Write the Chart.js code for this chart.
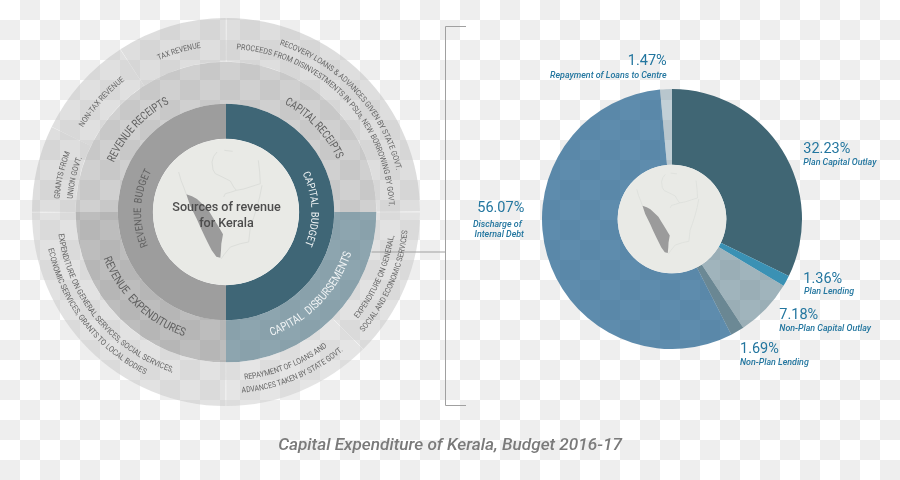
<!DOCTYPE html>
<html>
<head>
<meta charset="utf-8">
<script src="https://cdn.jsdelivr.net/npm/chart.js@4/dist/chart.umd.min.js"></script>
<style>
html,body{margin:0;padding:0}
body{width:900px;height:480px;overflow:hidden;position:relative;
 background:conic-gradient(#eee 25%,#fff 0 50%,#eee 0 75%,#fff 0) 0 0/40px 40px;
 font-family:Roboto,sans-serif}
canvas{position:absolute}
#left{left:32px;top:18px}
#right{left:542px;top:89px}
svg{position:absolute;left:0;top:0}
text{white-space:pre}
</style>
</head>
<body>
<canvas id="left" width="388" height="388"></canvas>
<canvas id="right" width="260" height="260"></canvas>
<svg id="ov" xmlns="http://www.w3.org/2000/svg" width="900" height="480" viewBox="0 0 900 480"></svg>
<script>
// ---- left diagram: sources of revenue (equal-part rings)
const outerLabels = ['Capital receipts detail','Expenditure on general, social and economic services','Repayment of loans','Revenue expenditure detail','Grants from Union Govt.','Non-tax revenue','Tax revenue'];
const outerValues = [90,45,45,90,26,31,33];
const middleLabels = ['Capital Receipts','Capital Disbursements','Revenue Expenditures','Revenue Receipts'];
const middleValues = [1,1,1,1];
const innerLabels = ['Capital Budget','Revenue Budget'];
const innerValues = [1,1];
// ---- right doughnut: capital expenditure shares (%)
const shareLabels = ['Plan Capital Outlay','Plan Lending','Non-Plan Capital Outlay','Non-Plan Lending','Discharge of Internal Debt','Repayment of Loans to Centre'];
const shareValues = [32.23,1.36,7.18,1.69,56.07,1.47];

const outerColors = ['rgba(190,190,190,.5)','rgba(198,198,198,.5)','rgba(204,204,204,.5)','rgba(198,198,198,.5)','rgba(190,190,190,.5)','rgba(194,194,194,.5)','rgba(190,190,190,.5)'];
const middleColors = ['rgba(170,170,170,.55)','rgba(109,140,153,.78)','rgba(145,145,145,.6)','rgba(170,170,170,.55)'];
const innerColors = ['#3f6676','rgba(147,147,147,.9)'];
const shareColors = ['#406674','#3a91b4','rgba(109,140,152,.65)','rgba(82,116,130,.85)','rgba(40,102,146,.75)','rgba(110,142,160,.42)'];

const base = {responsive:false,animation:false,events:[],
  plugins:{legend:{display:false},tooltip:{enabled:false}},layout:{padding:0}};

const leftChart = new Chart(document.getElementById('left'),{
  type:'doughnut',
  data:{labels:outerLabels,datasets:[
    {data:outerValues,backgroundColor:outerColors,borderWidth:0,spacing:1,weight:43.5},
    {data:middleValues,backgroundColor:middleColors,borderWidth:0,weight:42},
    {data:innerValues,backgroundColor:innerColors,borderWidth:0,weight:35}
  ]},
  options:Object.assign({},base,{cutout:'37.7%'})
});
const rightChart = new Chart(document.getElementById('right'),{
  type:'doughnut',
  data:{labels:shareLabels,datasets:[{data:shareValues,backgroundColor:shareColors,borderWidth:0}]},
  options:Object.assign({},base,{cutout:'41.8%'})
});

// ---- text and map overlay
const NS='http://www.w3.org/2000/svg', ov=document.getElementById('ov');
function el(name,attrs,parent,txt){const e=document.createElementNS(NS,name);
  for(const k in attrs)e.setAttribute(k,attrs[k]);if(txt!=null)e.textContent=txt;(parent||ov).appendChild(e);return e;}

const leftArc=leftChart.getDatasetMeta(0).data[0], cx=leftArc.x+32, cy=leftArc.y+18;
const rightArc=rightChart.getDatasetMeta(0).data[0], rx=rightArc.x+542, ry=rightArc.y+89;

// bracket and connector
el('path',{d:'M466 26.5H445.5V405.5H466M371.5 252H445.5',fill:'none',stroke:'#a0a0a0','stroke-width':1});

// centre discs and map
const kerala='M108 192L125 198L140 206L155 220L172 236L188 262L203 286L210 298L218 312L213 340L212 360L210 382L198 379L184 360L174 340L164 320L151 292L139 265L129 245L119 225Z';
const outline=['M85 125L92 150L100 170L108 192','M200 65L190 78L185 95L188 118L195 130L212 138L228 146L240 152L250 170L258 180L280 176L305 168L330 160L328 125L324 90','M220 200L225 190L240 186L258 180','M335 165L328 200L320 230L310 262L300 290L295 335L270 340L240 350L222 372L212 386','M222 60L247 63'];
function map(x,y,s,r){
  el('circle',{cx:x,cy:y,r:r,fill:'#e9eae6'});
  const g=el('g',{transform:`translate(${x} ${y}) scale(${s}) translate(-227 -245)`});
  outline.forEach(d=>el('path',{d:d,fill:'none',stroke:'#dcdeda','stroke-width':3,'stroke-linejoin':'round'},g));
  el('path',{d:kerala,fill:'#9b9b9b'},g);
}
map(cx,cy,1/3,73);
map(rx,ry,0.248,54.3);

el('text',{x:226.5,y:211,'text-anchor':'middle','font-size':12.6,'font-weight':500,fill:'#4d4d4d'},null,'Sources of revenue');
el('text',{x:226.5,y:226.5,'text-anchor':'middle','font-size':12.6,'font-weight':500,fill:'#4d4d4d'},null,'for Kerala');

// curved labels: text, centre angle (deg clockwise from top), baseline radius, span (deg), cw?, size, colour
const small='#666666', mid='#5f5f5f';
const curved=[
 ['TAX REVENUE',-16.3,166,15.3,1,8,small],
 ['NON-TAX REVENUE',-48.5,166,21.8,1,8,small],
 ['GRANTS FROM',-77.3,167,16.5,1,8,small],
 ['UNION GOVT.',-77.3,154,15.8,1,8,small],
 ['RECOVERY LOANS & ADVANCES GIVEN BY STATE GOVT.',47,175.5,58.5,1,8,small],
 ['PROCEEDS FROM DISINVESTMENTS IN PSUs, NEW BORROWING BY GOVT.',45.8,163,84.4,1,8,small],
 ['REPAYMENT OF LOANS AND',158.4,168.5,30.7,0,8,small],
 ['ADVANCES TAKEN BY STATE GOVT.',157.4,181.5,35.2,0,8,small],
 ['EXPENDITURE ON GENERAL,',113.5,169.5,31,0,8,small],
 ['SOCIAL AND ECONOMIC SERVICES',113.5,182.5,35.4,0,8,small],
 ['EXPENDITURE ON GENERAL SERVICES, SOCIAL SERVICES,',230.5,169,64,0,8,small],
 ['ECONOMIC SERVICES, GRANTS TO LOCAL BODIES',232.4,181.5,51.8,0,8,small],
 ['REVENUE RECEIPTS',-47,122.5,38.7,1,11.5,mid],
 ['CAPITAL RECEIPTS',46.5,123,36.2,1,11.5,mid],
 ['REVENUE  EXPENDITURES',224,131,50.6,0,11.5,mid],
 ['CAPITAL  DISBURSEMENTS',134,132,51.7,0,11.5,'#f2f5f6'],
 ['REVENUE  BUDGET',272.6,85,52.2,1,10.5,'#5f5f5f'],
 ['CAPITAL  BUDGET',88,85.5,49.3,1,10.5,'#f2f5f6']
];
const defs=el('defs',{});
curved.forEach((c,i)=>{
  const [t,a,r,span,cw,fs,col]=c, rad=d=>(d-90)*Math.PI/180;
  const a0=cw?a-100:a+100, a1=cw?a+100:a-100;
  const p=d=>`${cx+r*Math.cos(rad(d))} ${cy+r*Math.sin(rad(d))}`;
  el('path',{id:'arc'+i,d:`M${p(a0)}A${r} ${r} 0 1 ${cw?1:0} ${p(a1)}`},defs);
  const te=el('text',{'font-size':fs,fill:col,'text-anchor':'middle'});
  el('textPath',{href:'#arc'+i,startOffset:'50%'},te,t);
  const len=r*span*Math.PI/180;
  te.setAttribute('textLength',len.toFixed(1));te.setAttribute('lengthAdjust','spacingAndGlyphs');
});

// right labels
const blue='#23769f';
const flat=[
 ['1.47%',666.7,65,'end',14.5,0],
 ['Repayment of Loans to Centre',666.7,77.7,'end',8.9,1],
 ['32.23%',803.3,152.7,'start',14.5,0],
 ['Plan Capital Outlay',803.3,165,'start',8.9,1],
 ['1.36%',803.3,282.7,'start',14.5,0],
 ['Plan Lending',804,294.3,'start',8.9,1],
 ['7.18%',779.3,319,'start',14.5,0],
 ['Non-Plan Capital Outlay',779.3,330.7,'start',8.9,1],
 ['1.69%',740,353.3,'start',14.5,0],
 ['Non-Plan Lending',740,365,'start',8.9,1],
 ['56.07%',524.3,211.7,'end',14.5,0],
 ['Discharge of',521.7,226.7,'end',8.9,1],
 ['Internal Debt',524,237.3,'end',8.9,1]
];
flat.forEach(f=>el('text',{x:f[1],y:f[2],'text-anchor':f[3],'font-size':f[4],fill:blue,
  'font-style':f[5]?'italic':'normal','font-weight':f[5]?500:400},null,f[0]));

el('text',{x:450,y:450,'text-anchor':'middle','font-size':17.2,'font-style':'italic','font-weight':500,fill:'#7a7a7a'},null,'Capital Expenditure of Kerala, Budget 2016-17');
</script>
</body>
</html>
